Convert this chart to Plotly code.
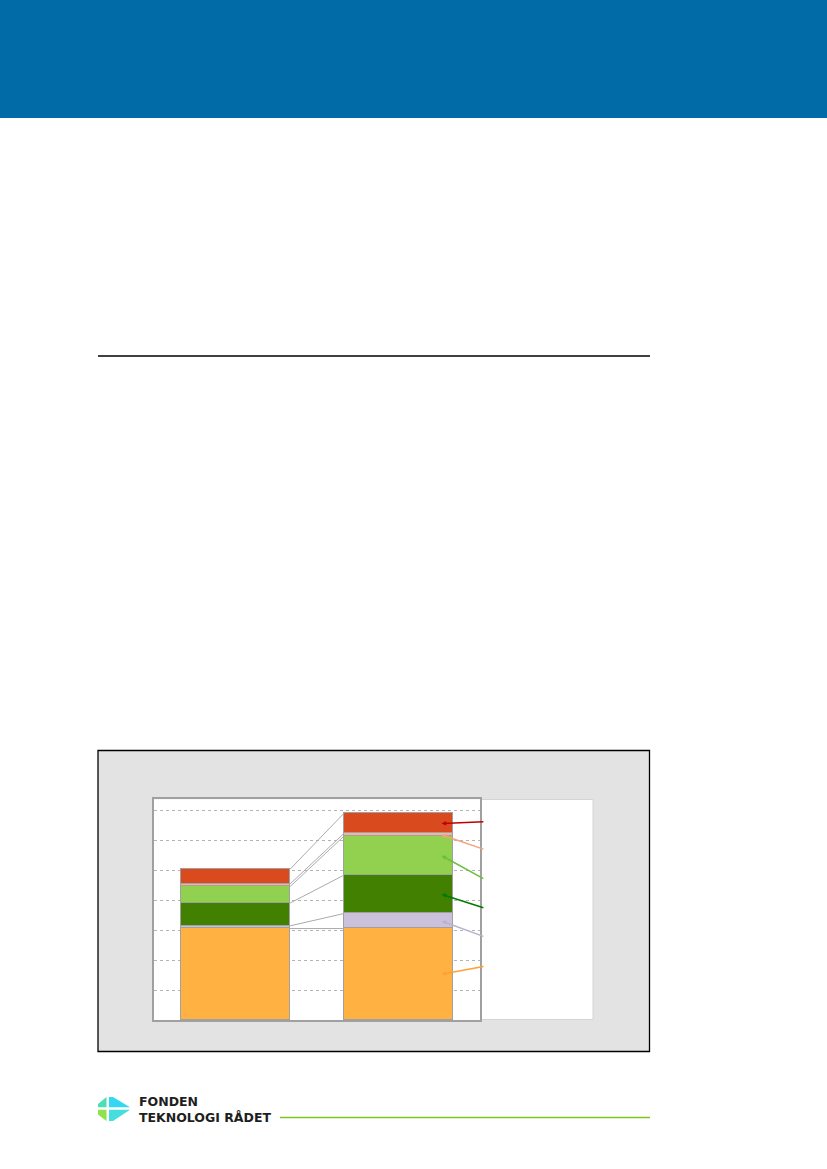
import plotly.graph_objects as go

W, H = 827, 1169

# ---- data ----
bar_x = [0, 1]
series_names = ["Serie 1", "Serie 2", "Serie 3", "Serie 4", "Serie 5", "Serie 6"]
s_orange = [3.05, 3.05]
s_lavender = [0.09, 0.50]
s_dkgreen = [0.76, 1.28]
s_ltgreen = [0.55, 1.30]
s_salmon = [0.09, 0.09]
s_red = [0.49, 0.67]
series_values = [s_orange, s_lavender, s_dkgreen, s_ltgreen, s_salmon, s_red]
series_colors = ["#FFB241", "#CBC1DB", "#418000", "#92D050", "#F5B39A", "#DA4A1F"]
leader_colors = ["#FFA030", "#B4B4D0", "#007A00", "#6CBF3C", "#F7A07A", "#C00000"]
# label anchor heights (where the data labels sit, bottom series first)
label_y = [1.79, 2.77, 3.73, 4.69, 5.68, 6.61]
logo_lines = ["FONDEN", "TEKNOLOGI RÅDET"]

BAR_W = 0.67


def px(x):
    return x / W


def py(y):
    return 1 - y / H


fig = go.Figure()

for name, vals, col in zip(series_names, series_values, series_colors):
    fig.add_trace(go.Bar(
        x=bar_x, y=vals, name=name, width=BAR_W,
        marker=dict(color=col, line=dict(color="#A0A0A0", width=1)),
        showlegend=False, hoverinfo="y"))

# series lines connecting the segment tops
cum = [[0.0, 0.0]]
for vals in series_values:
    cum.append([cum[-1][i] + vals[i] for i in range(2)])
for level in cum[1:]:
    fig.add_trace(go.Scatter(
        x=[bar_x[0] + BAR_W / 2, bar_x[1] - BAR_W / 2], y=level,
        mode="lines", line=dict(color="#ABABAB", width=1),
        showlegend=False, hoverinfo="skip"))

# leader lines to (empty) data labels of the second bar
annotations = []
for i, vals in enumerate(series_values):
    mid = cum[i][1] + vals[1] / 2
    annotations.append(dict(
        x=1.265, y=mid, xref="x", yref="y",
        ax=1.53, ay=label_y[i], axref="x", ayref="y",
        text=" ", font=dict(size=1), showarrow=True,
        arrowhead=2, arrowsize=0.6, arrowwidth=1.5,
        arrowcolor=leader_colors[i], standoff=0, startstandoff=0))

# logo text
annotations.append(dict(x=px(137.5), y=py(1109.3), xref="paper", yref="paper",
                        text="<br>".join(f"<b>{t}</b>" for t in logo_lines),
                        showarrow=False, xanchor="left", yanchor="middle", align="left",
                        borderpad=0,
                        font=dict(family="DejaVu Sans", size=12.5, color="#1E1E1E")))

shapes = []


def rect(x0, y0, x1, y1, fill, line_color=None, lw=0, layer="below"):
    shapes.append(dict(type="rect", xref="paper", yref="paper",
                       x0=px(x0), x1=px(x1), y0=py(y1), y1=py(y0),
                       fillcolor=fill, layer=layer,
                       line=dict(color=line_color or fill, width=lw)))


def hline(x0, x1, y, color, lw):
    shapes.append(dict(type="line", xref="paper", yref="paper",
                       x0=px(x0), x1=px(x1), y0=py(y), y1=py(y),
                       line=dict(color=color, width=lw), layer="below"))


def poly(pts, fill):
    d = "M " + " L ".join(f"{px(a):.5f},{py(b):.5f}" for a, b in pts) + " Z"
    shapes.append(dict(type="path", xref="paper", yref="paper", path=d,
                       fillcolor=fill, line=dict(width=0), layer="below"))


# blue header
rect(0, 0, W, 118, "#006BA7")
# rule
hline(98, 650, 356, "#000000", 1.5)
# chart frame
rect(98, 750.5, 649.5, 1051.5, "#E3E3E3", "#000000", 1.3)
# legend area
rect(480, 799.5, 593, 1019.5, "#FFFFFF", "#D4D4D4", 1)
# plot area
rect(154, 799.3, 480, 1020, "#FFFFFF")
# footer green line
hline(280, 650, 1117.5, "#7CC520", 1.5)
# logo icon
poly([(98, 1104), (106.5, 1097), (106.5, 1107.3), (98, 1107.3)], "#4FDDB8")
poly([(109, 1097), (113, 1097), (130, 1107.3), (109, 1107.3)], "#36D7F2")
poly([(98, 1109.7), (106.5, 1109.7), (106.5, 1121), (98, 1114.5)], "#8FE24A")
poly([(109, 1109.7), (130, 1109.7), (113, 1121), (109, 1121)], "#45DEDC")

fig.update_layout(
    width=W, height=H, autosize=False,
    margin=dict(l=0, r=0, t=0, b=0),
    paper_bgcolor="#FFFFFF", plot_bgcolor="rgba(0,0,0,0)",
    barmode="stack", bargap=0,
    showlegend=False,
    shapes=shapes, annotations=annotations,
    xaxis=dict(domain=[px(154), px(480)], range=[-0.5, 1.5],
               showgrid=False, zeroline=False, showticklabels=False, ticks="",
               showline=True, mirror=True, linecolor="#A0A0A0", linewidth=1.5,
               fixedrange=True),
    yaxis=dict(domain=[py(1020), py(799.3)], range=[0, 7.36],
               tick0=0, dtick=1, showgrid=True, gridcolor="#B4B4B4",
               griddash="dot", gridwidth=1, zeroline=False,
               showticklabels=False, ticks="",
               showline=True, mirror=True, linecolor="#A0A0A0", linewidth=1.5,
               fixedrange=True),
)

fig.write_html("out.html", config={"displayModeBar": False},
               post_script="document.body.style.margin='0';document.body.style.overflow='hidden';")
